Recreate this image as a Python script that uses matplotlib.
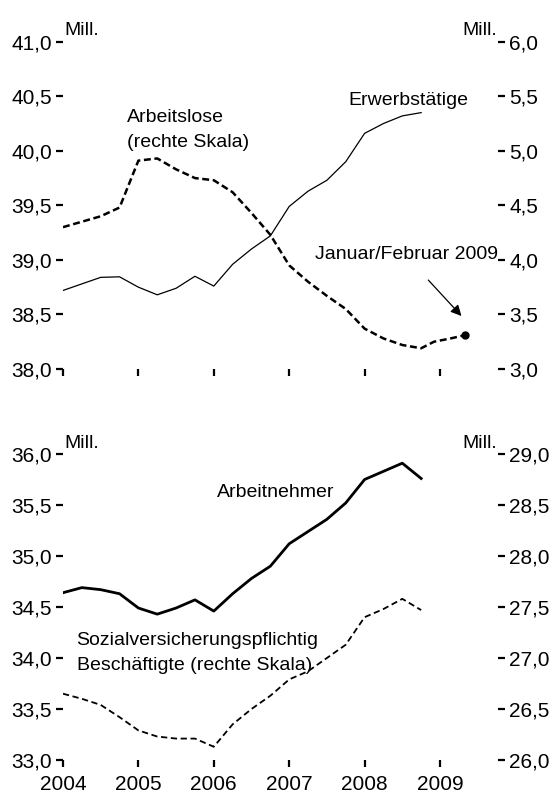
import matplotlib
matplotlib.use('Agg')
import matplotlib.pyplot as plt
import numpy as np

plt.rcParams['font.family'] = ['Liberation Sans Narrow', 'Liberation Sans', 'DejaVu Sans']
plt.rcParams['lines.scale_dashes'] = False

# quarterly dates 2004 Q1 .. 2008 Q4
quarters = np.arange(2004, 2009, 0.25)

# Erwerbstaetige (Mill., left scale)
erwerb = [38.72, 38.78, 38.84, 38.845, 38.75, 38.68, 38.74, 38.85,
          38.76, 38.96, 39.10, 39.22, 39.49, 39.63, 39.73, 39.90,
          40.16, 40.25, 40.32, 40.35]

# Arbeitslose (Mill., right scale), runs on to Januar/Februar 2009
alo_x = list(quarters) + [2008.92, 2009.14, 2009.33]
alo = [4.30, 4.35, 4.40, 4.48, 4.91, 4.93, 4.83, 4.75,
       4.73, 4.62, 4.43, 4.23, 3.95, 3.80, 3.67, 3.55,
       3.37, 3.28, 3.22, 3.19, 3.25, 3.28, 3.31]

# Arbeitnehmer (Mill., left scale)
arbn = [34.64, 34.69, 34.67, 34.63, 34.49, 34.43, 34.49, 34.57,
        34.46, 34.63, 34.78, 34.90, 35.12, 35.24, 35.36, 35.52,
        35.75, 35.83, 35.91, 35.76]

# Sozialversicherungspflichtig Beschaeftigte (Mill., right scale)
svb = [26.65, 26.60, 26.54, 26.42, 26.29, 26.23, 26.21, 26.21,
       26.13, 26.35, 26.50, 26.63, 26.79, 26.87, 27.00, 27.13,
       27.40, 27.48, 27.58, 27.47]

years = [2004, 2005, 2006, 2007, 2008, 2009]
top_left = [38.0, 38.5, 39.0, 39.5, 40.0, 40.5, 41.0]
top_right = [3.0, 3.5, 4.0, 4.5, 5.0, 5.5, 6.0]
bot_left = [33.0, 33.5, 34.0, 34.5, 35.0, 35.5, 36.0]
bot_right = [26.0, 26.5, 27.0, 27.5, 28.0, 28.5, 29.0]

FS = 15     # tick labels
TS = 14     # annotations
W, H = 551., 795.


def fmt(v):
    return ('%.1f' % v).replace('.', ',')


def style(ax, side):
    for s in ax.spines.values():
        s.set_visible(False)
    ax.tick_params(axis='both', direction='out', length=5, width=1.6,
                   labelsize=FS, pad=3, color='black')
    if side == 'right':
        ax.yaxis.tick_right()


def setup(axl, axr, yl, yr, xlabels):
    style(axl, 'left')
    style(axr, 'right')
    axl.set_xlim(2004, 2004 + 435 / 75.4)
    axl.set_xticks(years)
    if xlabels:
        axl.set_xticklabels([str(y) for y in years])
        axl.tick_params(axis='x', pad=6)
    else:
        axl.set_xticklabels([])
    axl.set_ylim(yl[0], yl[-1])
    axl.set_yticks(yl)
    axl.set_yticklabels([fmt(v) for v in yl])
    axr.set_ylim(yr[0], yr[-1])
    axr.set_yticks(yr)
    axr.set_yticklabels([fmt(v) for v in yr])
    axl.text(0.003, 1.02, 'Mill.', transform=axl.transAxes, fontsize=TS,
             ha='left', va='baseline')
    axr.text(0.999, 1.02, 'Mill.', transform=axr.transAxes, fontsize=TS,
             ha='right', va='baseline')


fig = plt.figure(figsize=(W / 100, H / 100), dpi=100)

ax1 = fig.add_axes([63 / W, 1 - 369 / H, 435 / W, (369 - 41.7) / H])
ax2 = ax1.twinx()
ax3 = fig.add_axes([63 / W, 1 - 760 / H, 435 / W, (760 - 454) / H])
ax4 = ax3.twinx()

setup(ax1, ax2, top_left, top_right, False)
setup(ax3, ax4, bot_left, bot_right, True)

# upper chart
ax1.plot(quarters, erwerb, color='black', lw=0.9)
ax2.plot(alo_x, alo, color='black', lw=1.8, dashes=(5, 2.6))
ax2.plot(alo_x[-1], alo[-1], 'o', color='black', ms=5)

ax1.text(2007.78, 40.42, 'Erwerbstätige', fontsize=TS, va='baseline')
ax1.text(2004.85, 40.267, 'Arbeitslose', fontsize=TS, va='baseline')
ax1.text(2004.85, 40.038, '(rechte Skala)', fontsize=TS, va='baseline')
ax1.text(2007.34, 39.01, 'Januar/Februar 2009', fontsize=TS, va='baseline')
ax2.annotate('', xy=(2009.31, 3.467), xytext=(2008.82, 3.834),
             arrowprops=dict(arrowstyle='-|>', color='black', lw=0.9,
                             mutation_scale=16))

# lower chart
ax3.plot(quarters, arbn, color='black', lw=2.0)
ax4.plot(quarters, svb, color='black', lw=1.3, dashes=(4.5, 2.6))

ax3.text(2006.04, 35.581, 'Arbeitnehmer', fontsize=TS, va='baseline')
ax3.text(2004.18, 34.127, 'Sozialversicherungspflichtig', fontsize=TS, va='baseline')
ax3.text(2004.18, 33.882, 'Beschäftigte (rechte Skala)', fontsize=TS, va='baseline')

fig.savefig('out.png', dpi=100, facecolor='white')
